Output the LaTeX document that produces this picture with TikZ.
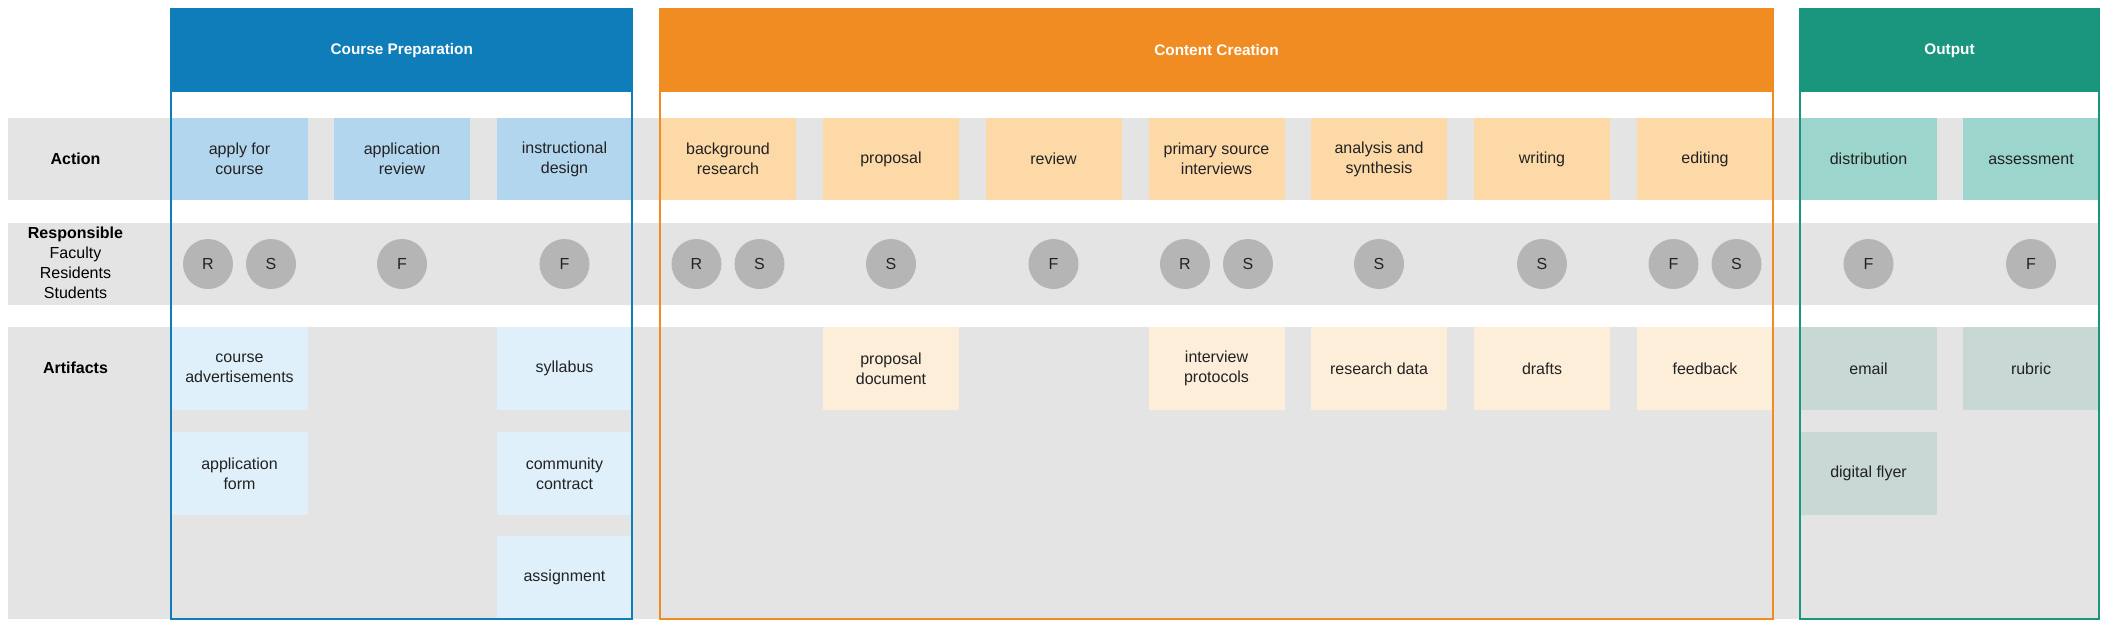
\documentclass[tikz,border=0pt]{standalone}
\usepackage{fontspec}
\setmainfont{Liberation Sans}
\usetikzlibrary{positioning}
\usepackage{xcolor}
\definecolor{PB}{RGB}{14,125,186}
\definecolor{PO}{RGB}{240,140,34}
\definecolor{PG}{RGB}{27,150,126}
\definecolor{AB}{RGB}{179,214,239}
\definecolor{AO}{RGB}{253,217,168}
\definecolor{AG}{RGB}{155,213,203}
\definecolor{FB}{RGB}{224,240,251}
\definecolor{FO}{RGB}{253,238,218}
\definecolor{FG}{RGB}{199,216,213}
\definecolor{BAND}{RGB}{228,228,228}
\definecolor{CIR}{RGB}{181,181,181}
\definecolor{TX}{RGB}{34,34,34}

\begin{document}
\begin{tikzpicture}[x=0.75pt, y=-0.75pt,
  act/.style={fill=#1, minimum width=102pt, minimum height=62pt,
              inner sep=2pt, align=center, text=TX,
              font=\fontsize{12}{15}\selectfont},
  who/.style={circle, fill=CIR, minimum size=37.5pt, inner sep=0pt,
              text=TX, font=\fontsize{12}{15}\selectfont},
  head/.style={fill=#1, minimum height=62.25pt, inner sep=0pt,
               text=white, font=\fontsize{11.5}{14}\selectfont\bfseries},
  lbl/.style={align=center, text=black, font=\fontsize{12}{15}\selectfont},
  frame/.style={draw=#1, line width=1.5pt}
]
\useasboundingbox (0,0) rectangle (2112,632);

% row bands
\fill[BAND] (8,118) rectangle (2098,200);
\fill[BAND] (8,223) rectangle (2098,305);
\fill[BAND] (8,327) rectangle (2098,619);

% row labels
\node[lbl] (lact) at (75.5,159) {\bfseries Action};
\node[lbl] (lres) at (75.5,263) {\bfseries Responsible\\Faculty\\Residents\\Students};
\node[lbl] (lart) at (75.5,368) {\bfseries Artifacts};

% actions
\node[act=AB] (apply)  at (239.5,159) {apply for\\course};
\node[act=AB] (arev)   at (402,159)   {application\\review};
\node[act=AB] (design) at (564.5,159) {instructional\\design};
\node[act=AO] (bgr)    at (728,159)   {background\\research};
\node[act=AO] (prop)   at (891,159)   {proposal};
\node[act=AO] (rev)    at (1053.5,159){review};
\node[act=AO] (psi)    at (1216.5,159){primary source\\interviews};
\node[act=AO] (ana)    at (1379,159)  {analysis and\\synthesis};
\node[act=AO] (wri)    at (1542,159)  {writing};
\node[act=AO] (edi)    at (1705,159)  {editing};
\node[act=AG] (dist)   at (1868.5,159){distribution};
\node[act=AG] (asse)   at (2031,159)  {assessment};

% responsible
\node[who] (r1) at (208,264)    {R};
\node[who] (s1) at (271,264)    {S};
\node[who] (f2) at (402,264)    {F};
\node[who] (f3) at (564.5,264)  {F};
\node[who] (r4) at (696.5,264)  {R};
\node[who] (s4) at (759.5,264)  {S};
\node[who] (s5) at (891,264)    {S};
\node[who] (f6) at (1053.5,264) {F};
\node[who] (r7) at (1185,264)   {R};
\node[who] (s7) at (1248,264)   {S};
\node[who] (s8) at (1379,264)   {S};
\node[who] (s9) at (1542,264)   {S};
\node[who] (f10) at (1673.5,264){F};
\node[who] (s10) at (1736.5,264){S};
\node[who] (f11) at (1868.5,264){F};
\node[who] (f12) at (2031,264)  {F};

% artifacts
\node[act=FB] (adv)   at (239.5,368.5) {course\\advertisements};
\node[act=FB] (form)  at (239.5,473.5) {application\\form};
\node[act=FB] (syl)   at (564.5,368.5) {syllabus};
\node[act=FB] (cc)    at (564.5,473.5) {community\\contract};
\node[act=FB] (asg)   at (564.5,577.5) {assignment};
\node[act=FO] (pdoc)  at (891,368.5)   {proposal\\document};
\node[act=FO] (iprot) at (1216.5,368.5){interview\\protocols};
\node[act=FO] (rdata) at (1379,368.5)  {research data};
\node[act=FO] (drft)  at (1542,368.5)  {drafts};
\node[act=FO] (fdbk)  at (1705,368.5)  {feedback};
\node[act=FG] (mail)  at (1868.5,368.5){email};
\node[act=FG] (flyer) at (1868.5,473.5){digital flyer};
\node[act=FG] (rubr)  at (2031,368.5)  {rubric};

% phase frames
\draw[frame=PB] (171,9) rectangle (632,619);
\draw[frame=PO] (660,9) rectangle (1773,619);
\draw[frame=PG] (1800,9) rectangle (2099,619);

\node[head=PB, minimum width=347.25pt] (prep) at (401.75,50.5) {Course Preparation};
\node[head=PO, minimum width=835.5pt] (make) at (1216.5,50.5) {Content Creation};
\node[head=PG, minimum width=225pt] (out) at (1949.5,50.5) {Output};
\end{tikzpicture}
\end{document}
